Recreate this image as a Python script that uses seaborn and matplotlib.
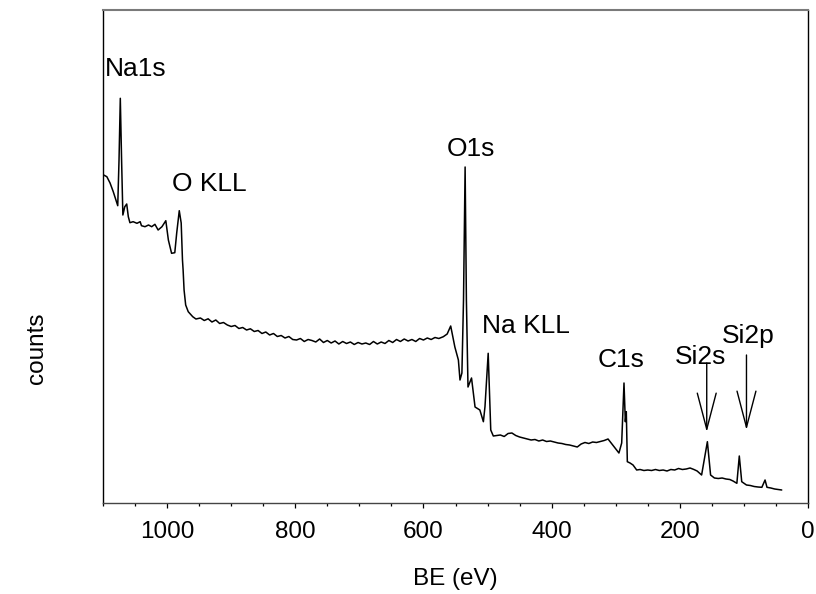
import matplotlib
matplotlib.use("Agg")
import matplotlib.pyplot as plt
import seaborn as sns
import pandas as pd
from matplotlib.ticker import MultipleLocator

# ---- data (binding energy in eV, counts in a.u.) ----
be = [
    1099, 1094, 1089, 1084, 1079, 1077, 1075, 1073, 1071, 1069, 1066, 1063,
    1060.5, 1058, 1053, 1047, 1042, 1040, 1034.5, 1029, 1024, 1019, 1014, 1008,
    1002, 998, 993, 988, 985, 981, 978, 976, 975, 973.5, 971, 967, 960,
    955, 948, 942, 936, 930, 924, 918, 912, 906, 900, 894, 888, 882, 876, 870,
    864, 858, 852, 846, 840, 834, 828, 822, 816, 810, 804, 798, 792, 786, 780,
    774, 768, 762, 756, 750, 744, 738, 732, 726, 720, 714, 708, 702, 696, 690,
    684, 678, 672, 666, 660, 654, 648, 642, 636, 630, 624, 618, 612, 606, 600,
    594, 588, 582, 576, 569, 563, 557.5, 551, 545.5, 543, 540, 537.5, 535, 533,
    530.5, 525, 519.5, 512, 506.5, 504, 499, 495, 491,
    485, 480, 474, 468, 462, 456, 450, 444, 438, 432, 426, 420, 414, 408, 402,
    396, 390, 384, 378, 372, 366, 360, 354, 348, 342, 336, 330, 324, 318, 312,
    306, 301, 295, 290.7, 287.1, 285, 283.5, 281.9, 277.7, 273, 267.3,
    262, 256, 250, 244, 238, 232, 226, 220, 214, 208, 202, 196, 190, 184, 178,
    173, 166, 157, 152, 146, 140, 134, 128, 122, 117, 111, 107.2, 103.4, 96,
    90, 84, 78, 72, 67, 64, 58, 52, 46, 41,
]
counts = [
    32800, 32630, 32000, 31130, 30130, 29730, 34300, 40470, 34300, 28800, 29630, 29900,
    28630, 28030, 28130, 27970, 28130, 27730, 27630, 27800, 27630, 27870, 27300, 27630,
    28230, 26300, 24970, 25030, 27000, 29230, 28000, 24300, 23300, 21300, 19800, 19130, 18630,
    18400, 18500, 18250, 18420, 18100, 18300, 17950, 18050, 17800, 17650, 17750, 17450, 17550, 17300, 17420,
    17150, 17250, 16950, 17100, 16800, 16950, 16650, 16750, 16500, 16650, 16350, 16300, 16450, 16150, 16350,
    16250, 16100, 16400, 16050, 16250, 16000, 16200, 15900, 16150, 15950, 16100, 15850, 16050, 15900, 16000,
    15850, 16150, 15900, 16100, 15950, 16250, 16050, 16350, 16150, 16400, 16200, 16350, 16150, 16450, 16300,
    16500, 16350, 16550, 16450, 16630, 16900, 17700, 15600, 14300, 12300, 13000, 20300, 33600, 20300,
    11600, 12500, 9600, 9300, 8130, 9630, 14970, 7300, 6700,
    6750, 6800, 6650, 6950, 7000, 6750, 6600, 6500, 6400, 6300, 6350, 6200, 6300, 6150, 6200,
    6100, 6000, 5950, 5850, 5800, 5700, 5600, 5900, 6050, 5950, 6100, 6050, 6150, 6250, 6400,
    5900, 5500, 5000, 6000, 12000, 8130, 9130, 4130, 4000, 3800, 3300,
    3350, 3250, 3300, 3250, 3350, 3250, 3300, 3200, 3350, 3300, 3450, 3350, 3400, 3500, 3350,
    3200, 2800, 6130, 2800, 2500, 2450, 2500, 2400, 2350, 2200, 1970, 4700, 2130, 1800,
    1750, 1650, 1600, 1570, 2300, 1570, 1500, 1400, 1350, 1300,
]

# peak labels: text, left x (eV), baseline y (counts)
labels = ["Na1s", "O KLL", "O1s", "Na KLL", "C1s", "Si2s", "Si2p"]
label_x = [1097, 992, 563, 509, 328, 207.5, 134]
label_y = [42700, 31230, 34700, 17030, 13570, 13870, 15970]

# arrows: x position (eV), tail y, tip y (counts)
arrow_x = [158, 96]
arrow_tail = [14000, 14800]
arrow_tip = [7100, 7300]

x_ticks = [0, 200, 400, 600, 800, 1000]

df = pd.DataFrame({"BE (eV)": be, "counts": counts})

sns.set_style("ticks")
plt.rcParams["font.family"] = ["Liberation Sans", "DejaVu Sans"]
plt.rcParams["text.color"] = "black"
plt.rcParams["axes.labelcolor"] = "black"

fig = plt.figure(figsize=(8.16, 5.94), dpi=100)
ax = fig.add_axes([103 / 816, (594 - 503) / 594, 705 / 816, 493 / 594])

sns.lineplot(data=df, x="BE (eV)", y="counts", ax=ax, color="black",
             linewidth=1.1, sort=False, estimator=None)

ax.set_xlim(1100, 0)
ax.set_ylim(0, 49300)
ax.set_xticks(x_ticks)
ax.xaxis.set_minor_locator(MultipleLocator(50))
ax.set_yticks([])
ax.tick_params(axis="x", which="major", direction="out", length=3.8, width=0.9,
               pad=9, labelsize=17.5, colors="black")
ax.tick_params(axis="x", which="minor", direction="out", length=2.3, width=0.9,
               colors="black")

for side in ["left", "right"]:
    ax.spines[side].set_color("black")
    ax.spines[side].set_linewidth(1.0)
ax.spines["top"].set_color("#7a7a7a")
ax.spines["top"].set_linewidth(1.5)
ax.spines["bottom"].set_color("#444444")
ax.spines["bottom"].set_linewidth(1.0)

ax.set_xlabel("BE (eV)", fontsize=17.5, labelpad=18, color="black")
ax.set_ylabel("counts", fontsize=17.5, color="black")
ax.yaxis.set_label_coords(-0.078, 0.314)

for t, x, y in zip(labels, label_x, label_y):
    ax.text(x, y, t, ha="left", va="baseline", fontsize=19, color="black")

for x, y0, y1 in zip(arrow_x, arrow_tail, arrow_tip):
    ax.annotate("", xy=(x, y1), xytext=(x, y0),
                arrowprops=dict(arrowstyle="->,head_length=2.6,head_width=0.68",
                                mutation_scale=10, color="black", lw=1.0,
                                shrinkA=0, shrinkB=0))

fig.savefig("out.png", dpi=100)
